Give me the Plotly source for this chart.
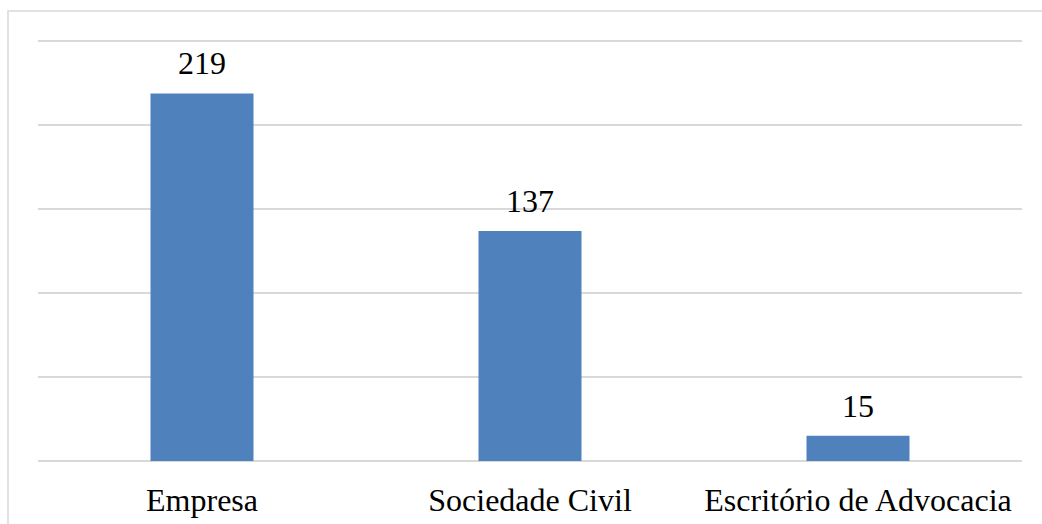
import plotly.graph_objects as go

categories = ["Empresa", "Sociedade Civil", "Escritório de Advocacia"]
values = [219, 137, 15]

W, H = 1042, 524
ml, mr, mt, mb = 38, 20, 38, 63
pw, ph = W - ml - mr, H - mt - mb
FONT = "Liberation Serif, Times New Roman, serif"
FS = 32

fig = go.Figure()
fig.add_trace(go.Bar(
    x=categories, y=values,
    marker=dict(color="#4F81BD", line=dict(width=0)),
    width=0.314,
    hoverinfo="x+y",
))

for c, v in zip(categories, values):
    fig.add_annotation(x=c, y=v, text=str(v), showarrow=False,
                       yanchor="bottom", yshift=10,
                       font=dict(family=FONT, size=FS, color="#000000"))

# outer chart-area border
fig.add_shape(type="rect", xref="paper", yref="paper",
              x0=(8 - ml) / pw, x1=(W + 10 - ml) / pw,
              y0=-(H + 10 - mt - ph) / ph, y1=(H - 11 - mb) / ph,
              line=dict(color="#d9d9d9", width=1.5), fillcolor="rgba(0,0,0,0)",
              layer="below")

fig.update_layout(
    width=W, height=H,
    margin=dict(l=ml, r=mr, t=mt, b=mb, pad=0, autoexpand=False),
    paper_bgcolor="white", plot_bgcolor="white",
    showlegend=False,
    font=dict(family=FONT, size=FS, color="#000000"),
    xaxis=dict(showgrid=False, showline=False, ticks="", zeroline=False,
               automargin=False, ticklabelstandoff=17,
               tickfont=dict(family=FONT, size=FS, color="#000000")),
    yaxis=dict(range=[0, 252], tickvals=[0, 50, 100, 150, 200, 250],
               showticklabels=False, ticks="", automargin=False,
               showgrid=True, gridcolor="#d9d9d9", gridwidth=1.5,
               zeroline=True, zerolinecolor="#d9d9d9", zerolinewidth=1.5,
               showline=False),
)

fig.write_html("out.html")
